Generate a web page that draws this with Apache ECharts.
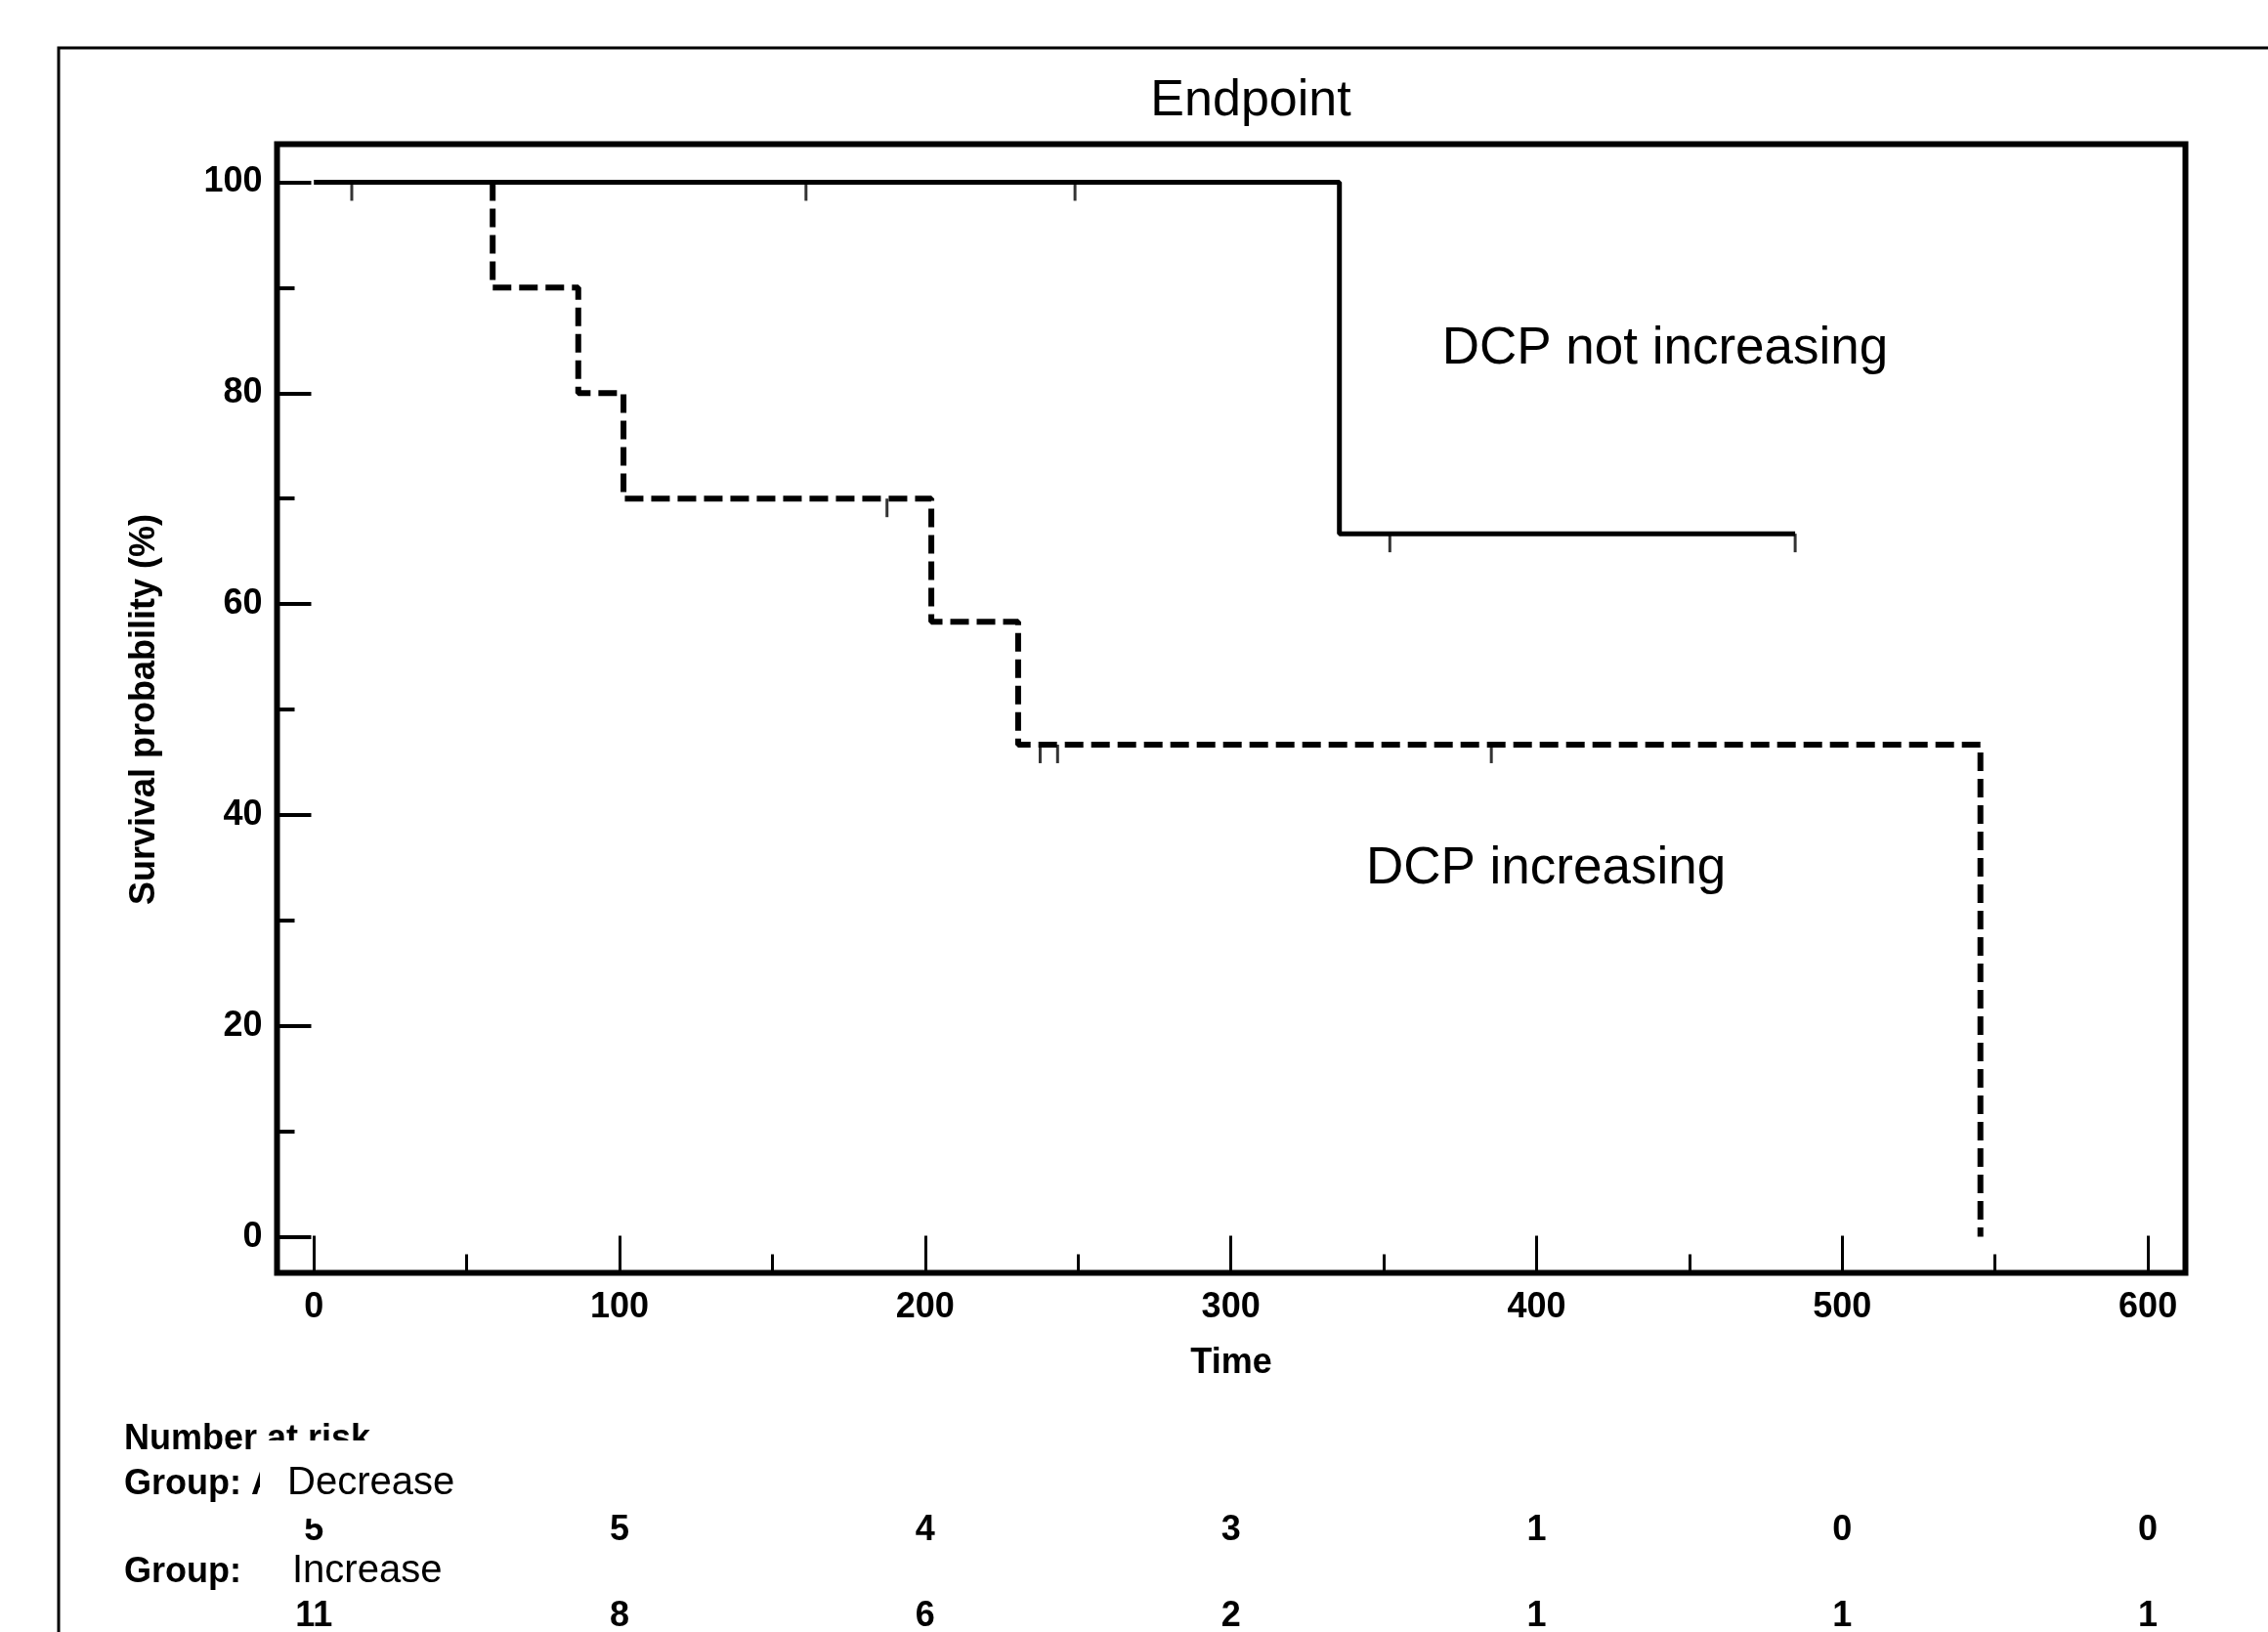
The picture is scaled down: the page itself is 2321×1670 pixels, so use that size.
<!DOCTYPE html>
<html>
<head>
<meta charset="utf-8">
<script src="https://cdn.jsdelivr.net/npm/echarts@6/dist/echarts.min.js"></script>
<style>
html,body{margin:0;padding:0;background:#fff;}
#chart{width:2321px;height:1670px;}
</style>
</head>
<body>
<div id="chart"></div>
<script>
// ---- data ----
var incTimes = [0, 58.5, 86.5, 101.3, 202, 230.4, 545.2];
var incSurv  = [100, 90, 80, 70, 58.33, 46.67, 0];
var decTimes = [0, 335.5, 484.6];
var decSurv  = [100, 66.67, 66.67];
var incCensorTimes = [12.4, 187.5, 237.6, 243.3, 385.2];
var incCensorSurv  = [100, 70, 46.67, 46.67, 46.67];
var decCensorTimes = [161, 249, 352, 484.6];
var decCensorSurv  = [100, 100, 66.67, 66.67];
var xMajorTicks = [0, 100, 200, 300, 400, 500, 600];
var xMinorTicks = [50, 150, 250, 350, 450, 550];
var yMajorTicks = [0, 20, 40, 60, 80, 100];
var yMinorTicks = [10, 30, 50, 70, 90];
var riskTimes = [0, 100, 200, 300, 400, 500, 600];
var riskDecrease = [5, 5, 4, 3, 1, 0, 0];
var riskIncrease = [11, 8, 6, 2, 1, 1, 1];
var groupNames = ['Decrease', 'Increase'];
var curveLabels = ['DCP not increasing', 'DCP increasing'];

var FONT = '"Liberation Sans", Arial, sans-serif';
function zip(a, b) { return a.map(function (v, i) { return [v, b[i]]; }); }

// The dashed curve is drawn from its first drop on (its 100% stretch lies under the solid curve):
// step 'start' points = (event time, survival before the event), then the final drop.
function dashedFromFirstDrop(times, surv) {
  var pts = [];
  for (var i = 1; i < times.length; i++) pts.push([times[i], surv[i - 1]]);
  pts.push([times[times.length - 1], surv[surv.length - 1]]);
  return pts;
}

var XMIN = -12.05, XMAX = 612.27, YMIN = -3.42, YMAX = 103.61;

function riskSeries(counts, rowY) {
  return {
    type: 'custom',
    coordinateSystem: 'cartesian2d',
    clip: false,
    silent: true,
    z: 3,
    data: zip(riskTimes, counts),
    renderItem: function (params, api) {
      var x = api.coord([api.value(0), 0])[0];
      return {
        type: 'text',
        x: x, y: rowY,
        style: {
          text: String(api.value(1)),
          fill: '#000',
          fontSize: 36, fontWeight: 'bold', fontFamily: FONT,
          align: 'center', verticalAlign: 'middle'
        }
      };
    }
  };
}

var chart = echarts.init(document.getElementById('chart'), null, {renderer: 'canvas'});
var option = {
  animation: false,
  backgroundColor: '#fff',
  grid: {
    left: 283.5, top: 147.5, width: 1953, height: 1155,
    show: true, borderColor: '#000', borderWidth: 6, backgroundColor: 'transparent',
    containLabel: false, outerBoundsMode: 'none'
  },
  xAxis: [
    {
      type: 'value', min: XMIN, max: XMAX, position: 'bottom',
      axisLine: {show: false, onZero: false}, splitLine: {show: false},
      axisTick: {show: true, inside: true, length: 38, customValues: xMajorTicks,
                 lineStyle: {color: '#000', width: 3}},
      axisLabel: {show: true, customValues: xMajorTicks, margin: 18,
                  color: '#000', fontSize: 36, fontWeight: 'bold', fontFamily: FONT}
    },
    {
      type: 'value', min: XMIN, max: XMAX, position: 'bottom',
      axisLine: {show: false, onZero: false}, splitLine: {show: false},
      axisTick: {show: true, inside: true, length: 19, customValues: xMinorTicks,
                 lineStyle: {color: '#000', width: 3}},
      axisLabel: {show: false}
    }
  ],
  yAxis: [
    {
      type: 'value', min: YMIN, max: YMAX, position: 'left',
      axisLine: {show: false, onZero: false}, splitLine: {show: false},
      axisTick: {show: true, inside: true, length: 35, customValues: yMajorTicks,
                 lineStyle: {color: '#000', width: 4}},
      axisLabel: {show: true, customValues: yMajorTicks, margin: 15,
                  color: '#000', fontSize: 36, fontWeight: 'bold', fontFamily: FONT}
    },
    {
      type: 'value', min: YMIN, max: YMAX, position: 'left',
      axisLine: {show: false, onZero: false}, splitLine: {show: false},
      axisTick: {show: true, inside: true, length: 18, customValues: yMinorTicks,
                 lineStyle: {color: '#000', width: 4}},
      axisLabel: {show: false}
    }
  ],
  series: [
    {
      name: groupNames[1], type: 'line', step: 'start', showSymbol: false, symbol: 'none',
      data: dashedFromFirstDrop(incTimes, incSurv), z: 2,
      lineStyle: {color: '#000', width: 6, type: [19, 8], cap: 'butt'}
    },
    {
      name: groupNames[0], type: 'line', step: 'end', showSymbol: false, symbol: 'none',
      data: zip(decTimes, decSurv), z: 3,
      lineStyle: {color: '#000', width: 5, type: 'solid'}
    },
    {
      type: 'scatter', data: zip(incCensorTimes, incCensorSurv), z: 4,
      symbol: 'rect', symbolSize: [3, 19], symbolOffset: [0, 9.5],
      itemStyle: {color: '#000'}
    },
    {
      type: 'scatter', data: zip(decCensorTimes, decCensorSurv), z: 4,
      symbol: 'rect', symbolSize: [3, 19], symbolOffset: [0, 9.5],
      itemStyle: {color: '#000'}
    },
    riskSeries(riskDecrease, 1566),
    riskSeries(riskIncrease, 1654)
  ],
  graphic: [
    {type: 'rect', shape: {x: 60, y: 49, width: 2400, height: 1800},
     style: {fill: 'none', stroke: '#000', lineWidth: 3}, z: 0, silent: true},
    {type: 'text', x: 1280, y: 104, z: 5,
     style: {text: 'Endpoint', fill: '#000', fontSize: 52, fontFamily: FONT, align: 'center', verticalAlign: 'middle'}},
    {type: 'text', x: 148, y: 726, rotation: Math.PI / 2, z: 5,
     style: {text: 'Survival probability (%)', fill: '#000', fontSize: 36, fontWeight: 'bold', fontFamily: FONT, align: 'center', verticalAlign: 'middle'}},
    {type: 'text', x: 1260, y: 1395, z: 5,
     style: {text: 'Time', fill: '#000', fontSize: 36, fontWeight: 'bold', fontFamily: FONT, align: 'center', verticalAlign: 'middle'}},
    {type: 'text', x: 1704, y: 357, z: 5,
     style: {text: curveLabels[0], fill: '#000', fontSize: 53, fontFamily: FONT, align: 'center', verticalAlign: 'middle'}},
    {type: 'text', x: 1582, y: 889, z: 5,
     style: {text: curveLabels[1], fill: '#000', fontSize: 53, fontFamily: FONT, align: 'center', verticalAlign: 'middle'}},
    {type: 'text', x: 127, y: 1473, z: 5,
     style: {text: 'Number at risk', fill: '#000', fontSize: 36, fontWeight: 'bold', fontFamily: FONT, align: 'left', verticalAlign: 'middle'}},
    {type: 'text', x: 127, y: 1519, z: 5,
     style: {text: 'Group: A', fill: '#000', fontSize: 36, fontWeight: 'bold', fontFamily: FONT, align: 'left', verticalAlign: 'middle'}},
    {type: 'text', x: 127, y: 1609, z: 5,
     style: {text: 'Group:', fill: '#000', fontSize: 36, fontWeight: 'bold', fontFamily: FONT, align: 'left', verticalAlign: 'middle'}},
    {type: 'rect', shape: {x: 266, y: 1474, width: 226, height: 80}, style: {fill: '#fff'}, z: 10, silent: true},
    {type: 'text', x: 294, y: 1518, z: 11,
     style: {text: groupNames[0], fill: '#000', fontSize: 40, fontFamily: FONT, align: 'left', verticalAlign: 'middle'}},
    {type: 'rect', shape: {x: 270, y: 1583, width: 210, height: 53}, style: {fill: '#fff'}, z: 10, silent: true},
    {type: 'text', x: 299, y: 1608, z: 11,
     style: {text: groupNames[1], fill: '#000', fontSize: 40, fontFamily: FONT, align: 'left', verticalAlign: 'middle'}}
  ]
};
chart.setOption(option);
</script>
</body>
</html>
